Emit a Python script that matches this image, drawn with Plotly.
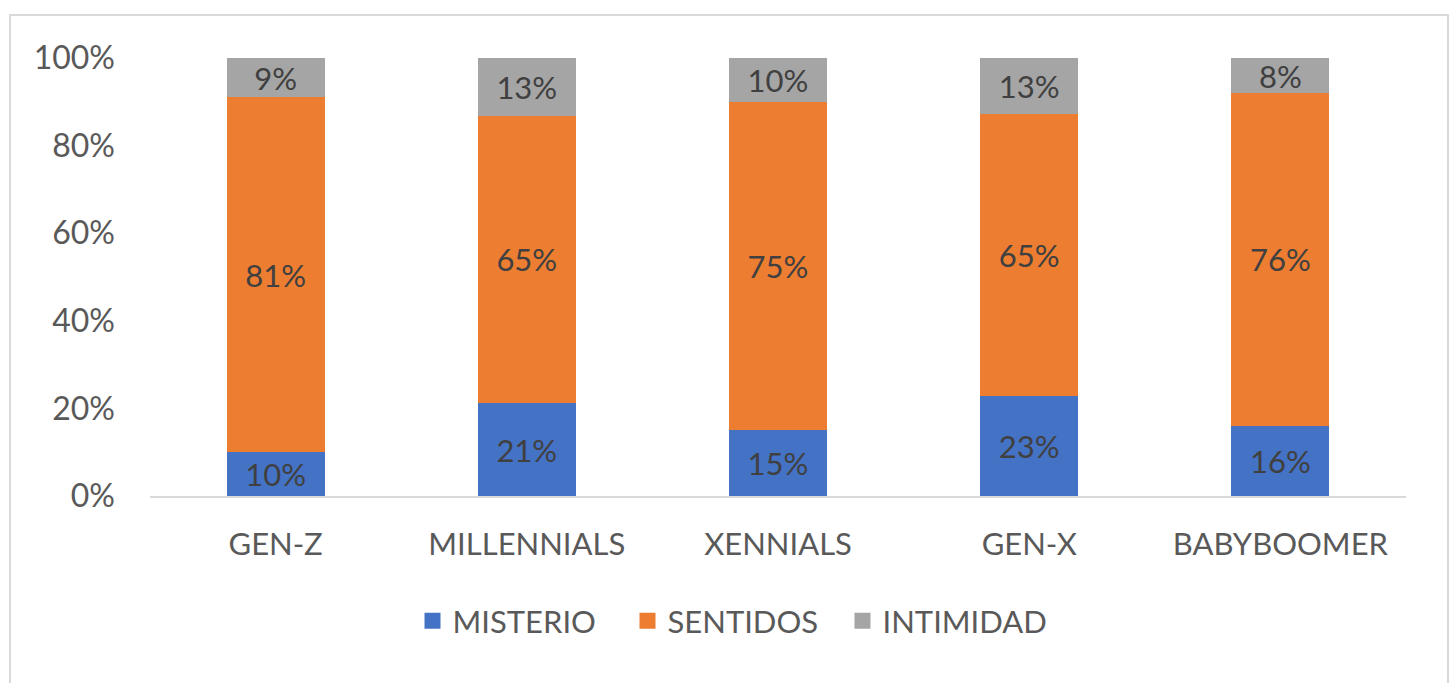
import plotly.graph_objects as go

categories = ["GEN-Z", "MILLENNIALS", "XENNIALS", "GEN-X", "BABYBOOMER"]
misterio = [10, 21, 15, 23, 16]
sentidos = [81, 65, 75, 65, 76]
intimidad = [9, 13, 10, 13, 8]
series_names = ["MISTERIO", "SENTIDOS", "INTIMIDAD"]
colors = ["#4472C4", "#ED7D31", "#A5A5A5"]
y_ticks = [0, 20, 40, 60, 80, 100]

W, H = 1450, 683
ML, MR, MT, MB = 150, 44, 58, 187
FONT = "Lato"

fig = go.Figure()
for name, vals, col in zip(series_names, [misterio, sentidos, intimidad], colors):
    fig.add_trace(go.Bar(
        x=categories, y=vals, name=name, marker=dict(color=col, line=dict(width=0)),
        text=[f"{v}%" for v in vals], textposition="inside", insidetextanchor="middle",
        textangle=0, constraintext="none",
        textfont=dict(family=FONT, size=31, color="#404040"),
        cliponaxis=False, showlegend=False,
    ))
# legend entries (no data, legend swatches only)
for name, col in zip(series_names, colors):
    fig.add_trace(go.Scatter(
        x=[None], y=[None], mode="markers", name=name,
        marker=dict(symbol="square", size=19, color=col), showlegend=True,
    ))

pw = W - ML - MR
ph = H - MT - MB
def px_x(p):
    return (p - ML) / pw
def px_y(p):
    return (H - MB - p) / ph

fig.update_layout(
    width=W, height=H,
    barmode="stack", barnorm="percent", bargap=0.61,
    margin=dict(l=ML, r=MR, t=MT, b=MB, autoexpand=False),
    paper_bgcolor="white", plot_bgcolor="white",
    font=dict(family=FONT, size=31, color="#595959"),
    xaxis=dict(showgrid=False, showline=True, linecolor="#D9D9D9", linewidth=2,
               ticks="", tickfont=dict(family=FONT, size=31, color="#595959"),
               ticklabelstandoff=20, fixedrange=True),
    yaxis=dict(range=[0, 100.0001], tickvals=y_ticks, ticktext=[f"{t}%" for t in y_ticks],
               showgrid=False, showline=False, zeroline=False, ticks="",
               tickfont=dict(family=FONT, size=32, color="#595959"),
               ticklabelstandoff=34, fixedrange=True),
    legend=dict(orientation="h", x=px_x(735), xanchor="center", y=px_y(621), yanchor="middle",
                font=dict(family=FONT, size=31, color="#595959"),
                itemsizing="trace", itemwidth=30, traceorder="normal",
                entrywidthmode="pixels", entrywidth=170),
    shapes=[dict(type="rect", xref="paper", yref="paper",
                 x0=px_x(10), x1=px_x(1448), y0=px_y(690), y1=px_y(15),
                 line=dict(color="#D9D9D9", width=2), fillcolor="rgba(0,0,0,0)", layer="below")],
    showlegend=True,
)

fig.write_html("out.html", config={"displayModeBar": False},
               post_script="document.body.style.margin='0px';")
